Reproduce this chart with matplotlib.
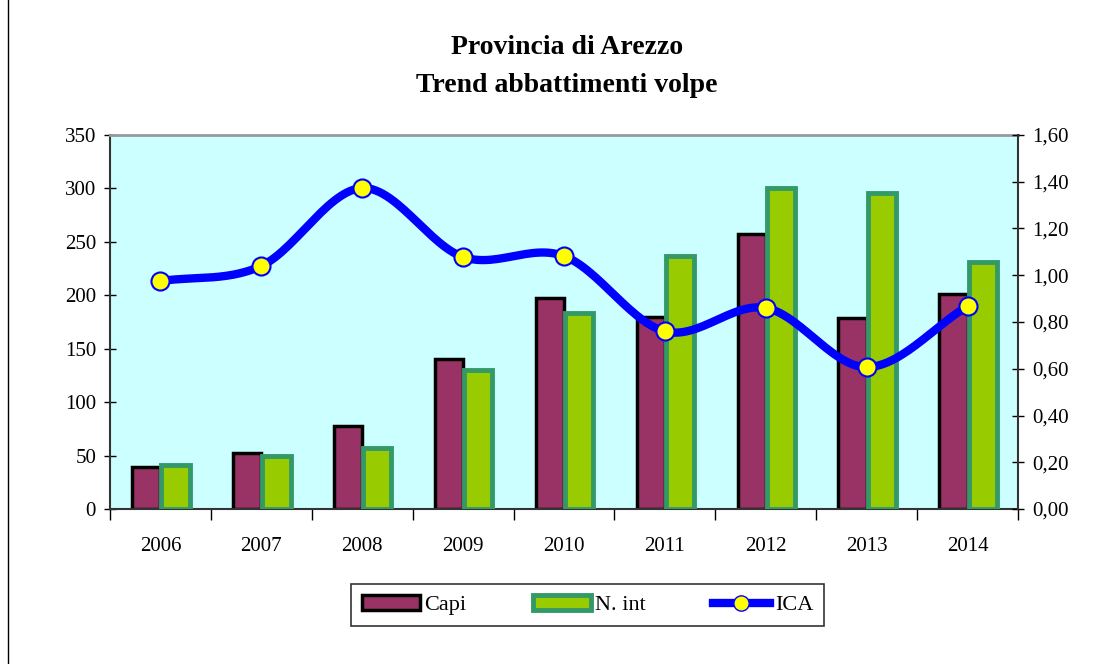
import numpy as np
import matplotlib
matplotlib.use("Agg")
import matplotlib.pyplot as plt
from matplotlib.lines import Line2D
from matplotlib.patches import Patch

years = ["2006", "2007", "2008", "2009", "2010", "2011", "2012", "2013", "2014"]
capi = [39, 52, 78, 140, 197, 180, 257, 179, 201]
n_int = [41, 50, 57, 130, 183, 237, 300, 296, 231]
ica = [0.975, 1.04, 1.373, 1.078, 1.082, 0.76, 0.86, 0.607, 0.868]

plt.rcParams['font.family'] = ['Liberation Serif', 'DejaVu Serif']

fig = plt.figure(figsize=(11.14, 6.64), dpi=100)
ax = fig.add_axes([110/1114, 1-509/664, 908/1114, 374/664])
ax.set_facecolor('#CCFFFF')

x = np.arange(len(years))
w = 0.28
ax.bar(x - w/2, capi, width=w, color='#993366', edgecolor='black', linewidth=2.5, zorder=2)
ax.bar(x + w/2 + 0.01, n_int, width=w, color='#99CC00', edgecolor='#339966', linewidth=3.5, zorder=3)

ax.set_xlim(-0.5, len(years) - 0.5)
ax.set_ylim(0, 350)
ax.set_yticks(range(0, 351, 50))
ax.set_xticks(x)
ax.set_xticklabels(years)
ax.set_xticks(np.arange(-0.5, len(years), 1.0), minor=True)
ax.tick_params(axis='x', which='major', length=0, pad=20, labelsize=15)
ax.tick_params(axis='x', which='minor', length=8, direction='out', width=1)
ax.tick_params(axis='y', length=8, direction='inout', width=1, labelsize=15, pad=6)
for s in ['left', 'bottom']:
    ax.spines[s].set_linewidth(1.5)
    ax.spines[s].set_color('#333333')
ax.spines['top'].set_color('#999999')
ax.spines['top'].set_linewidth(2)
ax.spines['right'].set_visible(False)

ax2 = ax.twinx()
ax2.set_ylim(0, 1.6)
ax2.set_yticks(np.arange(0, 1.61, 0.2))
ax2.set_yticklabels([f"{v:.2f}".replace('.', ',') for v in np.arange(0, 1.61, 0.2)])
ax2.tick_params(axis='y', length=8, direction='inout', width=1, labelsize=15, pad=6)
ax2.spines['right'].set_linewidth(1.5)
ax2.spines['right'].set_color('#333333')
for s in ['left', 'top', 'bottom']:
    ax2.spines[s].set_visible(False)

# Smooth curve (Catmull-Rom rendering of the ICA points)
def catmull(xs, ys, n=30):
    px = np.concatenate([[2*xs[0]-xs[1]], xs, [2*xs[-1]-xs[-2]]])
    py = np.concatenate([[2*ys[0]-ys[1]], ys, [2*ys[-1]-ys[-2]]])
    ox, oy = [], []
    for i in range(1, len(px) - 2):
        t = np.linspace(0, 1, n)
        for P, out in ((px, ox), (py, oy)):
            p0, p1, p2, p3 = P[i-1], P[i], P[i+1], P[i+2]
            out.extend(0.5*((2*p1) + (-p0+p2)*t + (2*p0-5*p1+4*p2-p3)*t**2 + (-p0+3*p1-3*p2+p3)*t**3))
    return np.array(ox), np.array(oy)

sx, sy = catmull(x.astype(float), np.array(ica))
ax2.plot(sx, sy, color='#0000FF', linewidth=6, zorder=4, solid_capstyle='round')
ax2.plot(x, ica, linestyle='none', marker='o', markersize=13, markerfacecolor='#FFFF00',
         markeredgecolor='#0000FF', markeredgewidth=1.5, zorder=5)

fig.text(567/1114, 1-48/664, "Provincia di Arezzo", ha='center', va='center', fontsize=20, fontweight='bold')
fig.text(567/1114, 1-85/664, "Trend abbattimenti volpe", ha='center', va='center', fontsize=20, fontweight='bold')

handles = [
    Patch(facecolor='#993366', edgecolor='black', linewidth=2.5),
    Patch(facecolor='#99CC00', edgecolor='#339966', linewidth=3.5),
    Line2D([0], [0], color='#0000FF', linewidth=6, marker='o', markersize=11,
           markerfacecolor='#FFFF00', markeredgecolor='#0000FF'),
]
leg = fig.legend(handles, ["Capi", "N. int", "ICA"], loc='center',
                 bbox_to_anchor=((355+820)/2/1114, 1-605/664), ncol=3, fontsize=16,
                 frameon=True, fancybox=False, edgecolor='black', columnspacing=3.0,
                 handlelength=2.6, handletextpad=0.2, borderpad=0.5)
leg.get_frame().set_linewidth(1.2)

fig.add_artist(Line2D([8/1114, 8/1114], [0, 1], color='black', linewidth=1))

fig.savefig("out.png", dpi=100)
